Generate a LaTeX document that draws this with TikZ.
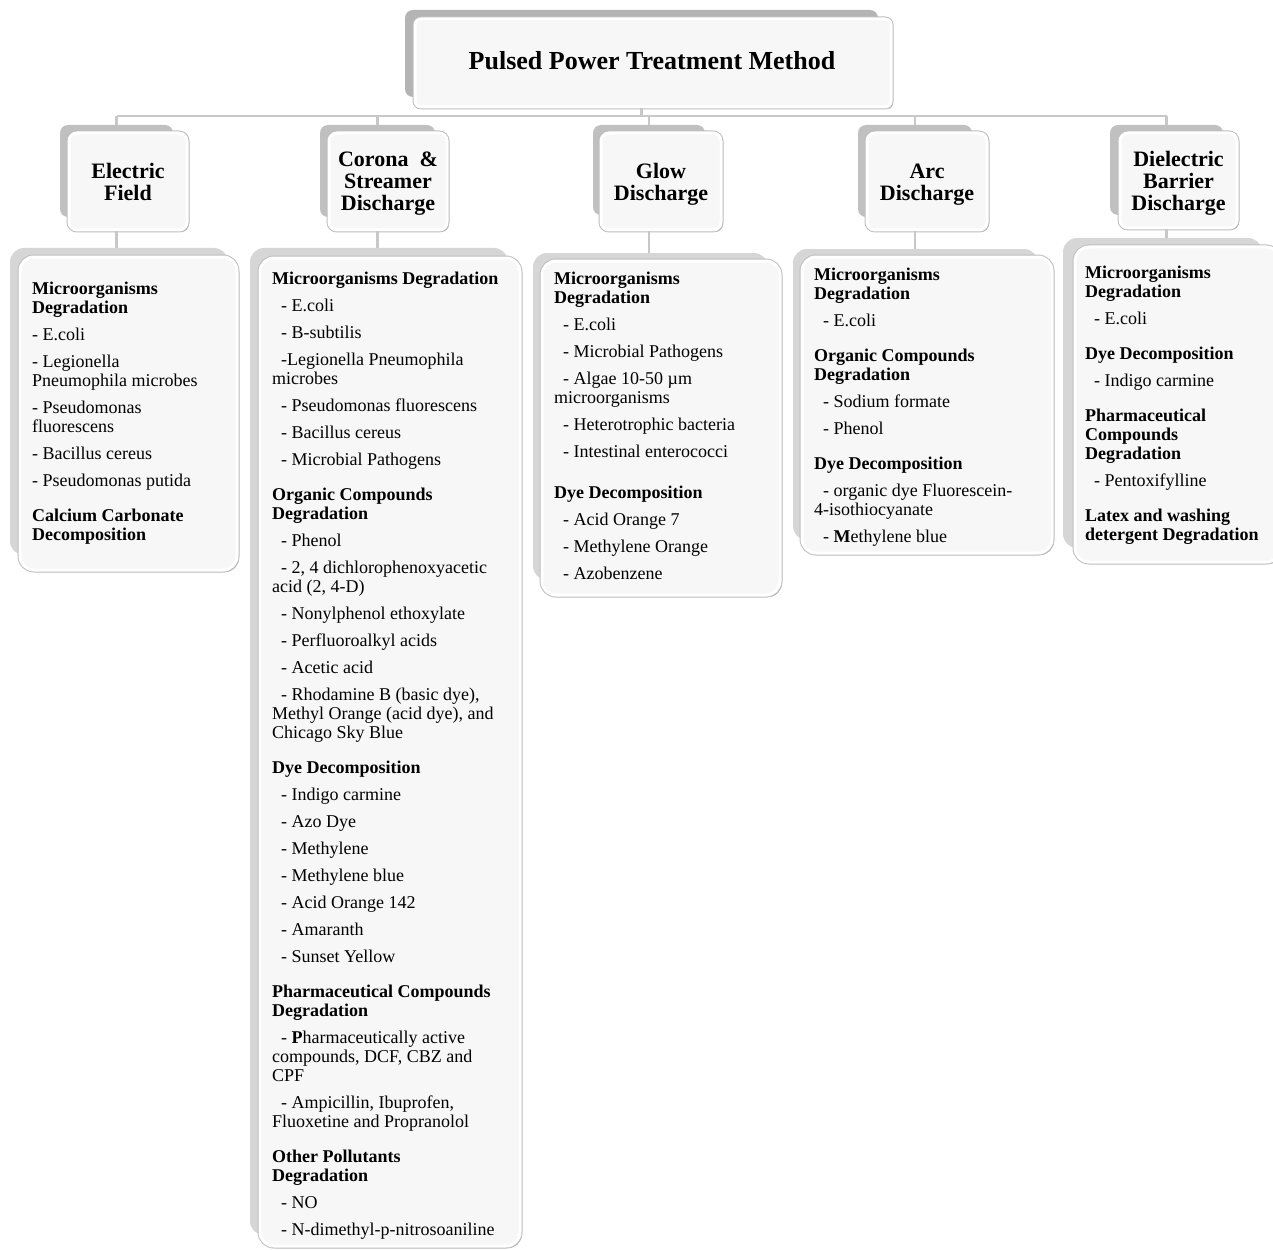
\documentclass[tikz,border=0pt]{standalone}
\usepackage{fontspec}
\setmainfont{Liberation Serif}
\usetikzlibrary{fit,shadows}

\definecolor{backdark}{HTML}{B4B4B4}
\definecolor{backmid}{HTML}{C0C0C0}
\definecolor{backlight}{HTML}{D6D6D6}
\definecolor{panel}{HTML}{F7F7F7}
\definecolor{linkgray}{HTML}{C8C8C8}

\newcommand{\ig}{8pt}
\newcommand{\hg}{16pt}
\newcommand{\ind}{\hspace*{9pt}}

\begin{document}
\begin{tikzpicture}[x=1pt,y=-1pt,
	back/.style={rounded corners=8pt, inner sep=0pt, draw=none},
	front/.style={rounded corners=8pt, inner sep=0pt,
		drop shadow={shadow xshift=2pt, shadow yshift=-2pt, fill=gray!70, opacity=1},
		preaction={draw=gray!50, line width=5pt},
		fill=panel, draw=white, line width=3pt},
	ttlfont/.style={font=\bfseries\fontsize{26}{30}\selectfont, inner sep=0pt},
	headfont/.style={font=\bfseries\fontsize{22}{22}\selectfont, align=center, inner sep=0pt},
	list/.style={anchor=north west, inner sep=0pt, align=left, font=\fontsize{18}{19}\selectfont},
	link/.style={draw=linkgray, line width=2.5pt}]
	\useasboundingbox (0,0) rectangle (1273,1249);

	% title
	\node[back, fill=backdark, fit={(405,10) (878,97)}] (ttl-back) {};
	\node[front, rounded corners=6pt, fit={(415,19) (891,107)}] (ttl) {};
	\node[ttlfont] (ttl-txt) at (652,61) {Pulsed Power Treatment Method};

	% methods
	\node[back, fill=backmid, fit={(60,125) (173,217)}] (ef-back) {};
	\node[front, fit={(69,133) (187,230)}] (ef) {};
	\node[headfont] (ef-txt) at (ef.center) {Electric\\Field};

	\node[back, fill=backmid, fit={(320,125) (435,217)}] (cs-back) {};
	\node[front, fit={(329,133) (447,230)}] (cs) {};
	\node[headfont] (cs-txt) at ([yshift=-2pt]cs.center) {Corona \ \&\\Streamer\\Discharge};

	\node[back, fill=backmid, fit={(593,125) (705,215)}] (gd-back) {};
	\node[front, fit={(601,133) (721,230)}] (gd) {};
	\node[headfont] (gd-txt) at ([yshift=-3pt]gd.center) {Glow\\Discharge};

	\node[back, fill=backmid, fit={(858,125) (972,217)}] (ad-back) {};
	\node[front, fit={(867,133) (987,230)}] (ad) {};
	\node[headfont] (ad-txt) at ([yshift=-3pt]ad.center) {Arc\\Discharge};

	\node[back, fill=backmid, fit={(1110,125) (1223,215)}] (dbd-back) {};
	\node[front, fit={(1120,133) (1237,228)}] (dbd) {};
	\node[headfont] (dbd-txt) at ([yshift=-3pt]dbd.center) {Dielectric\\Barrier\\Discharge};

	% lists
	\node[back, rounded corners=14pt, fill=backlight, fit={(10,248) (228,555)}] (ef-list-back) {};
	\node[front, rounded corners=14pt, fit={(20,257) (237,570)}] (ef-list) {};
	\node[list] (ef-list-txt) at (32,282) {\textbf{Microorganisms}\\ \textbf{Degradation}\\[\ig]
		- E.coli\\[\ig]
		- Legionella\\ Pneumophila microbes\\[\ig]
		- Pseudomonas\\ fluorescens\\[\ig]
		- Bacillus cereus\\[\ig]
		- Pseudomonas putida\\[\hg]
		\textbf{Calcium Carbonate}\\ \textbf{Decomposition}};

	\node[back, rounded corners=14pt, fill=backlight, fit={(250,248) (508,1235)}] (cs-list-back) {};
	\node[front, rounded corners=14pt, fit={(260,258) (520,1246)}] (cs-list) {};
	\node[list] (cs-list-txt) at (272,272) {\textbf{Microorganisms Degradation}\\[\ig]
		\ind- E.coli\\[\ig]
		\ind- B-subtilis\\[\ig]
		\ind-Legionella Pneumophila\\ microbes\\[\ig]
		\ind- Pseudomonas fluorescens\\[\ig]
		\ind- Bacillus cereus\\[\ig]
		\ind- Microbial Pathogens\\[\hg]
		\textbf{Organic Compounds}\\ \textbf{Degradation}\\[\ig]
		\ind- Phenol\\[\ig]
		\ind- 2, 4 dichlorophenoxyacetic\\ acid (2, 4-D)\\[\ig]
		\ind- Nonylphenol ethoxylate\\[\ig]
		\ind- Perfluoroalkyl acids\\[\ig]
		\ind- Acetic acid\\[\ig]
		\ind- Rhodamine B (basic dye),\\ Methyl Orange (acid dye), and\\ Chicago Sky Blue\\[\hg]
		\textbf{Dye Decomposition}\\[\ig]
		\ind- Indigo carmine\\[\ig]
		\ind- Azo Dye\\[\ig]
		\ind- Methylene\\[\ig]
		\ind- Methylene blue\\[\ig]
		\ind- Acid Orange 142\\[\ig]
		\ind- Amaranth\\[\ig]
		\ind- Sunset Yellow\\[\hg]
		\textbf{Pharmaceutical Compounds}\\ \textbf{Degradation}\\[\ig]
		\ind- \textbf{P}harmaceutically active\\ compounds, DCF, CBZ and\\ CPF\\[\ig]
		\ind- Ampicillin, Ibuprofen,\\ Fluoxetine and Propranolol\\[\hg]
		\textbf{Other Pollutants}\\ \textbf{Degradation}\\[\ig]
		\ind- NO\\[\ig]
		\ind- N-dimethyl-p-nitrosoaniline};

	\node[back, rounded corners=14pt, fill=backlight, fit={(533,253) (768,580)}] (gd-list-back) {};
	\node[front, rounded corners=14pt, fit={(542,261) (780,595)}] (gd-list) {};
	\node[list] (gd-list-txt) at (554,271.5) {\textbf{Microorganisms}\\ \textbf{Degradation}\\[\ig]
		\ind- E.coli\\[\ig]
		\ind- Microbial Pathogens\\[\ig]
		\ind- Algae 10-50 µm\\ microorganisms\\[\ig]
		\ind- Heterotrophic bacteria\\[\ig]
		\ind- Intestinal enterococci\\[22pt]
		\textbf{Dye Decomposition}\\[\ig]
		\ind- Acid Orange 7\\[\ig]
		\ind- Methylene Orange\\[\ig]
		\ind- Azobenzene};

	\node[back, rounded corners=14pt, fill=backlight, fit={(793,249) (1038,540)}] (ad-list-back) {};
	\node[front, rounded corners=14pt, fit={(802,257) (1052,553)}] (ad-list) {};
	\node[list] (ad-list-txt) at (814,268) {\textbf{Microorganisms}\\ \textbf{Degradation}\\[\ig]
		\ind- E.coli\\[\hg]
		\textbf{Organic Compounds}\\ \textbf{Degradation}\\[\ig]
		\ind- Sodium formate\\[\ig]
		\ind- Phenol\\[\hg]
		\textbf{Dye Decomposition}\\[\ig]
		\ind- organic dye Fluorescein-\\ 4-isothiocyanate\\[\ig]
		\ind- \textbf{M}ethylene blue};

	\node[back, rounded corners=14pt, fill=backlight, fit={(1063,238) (1262,548)}] (dbd-list-back) {};
	\node[front, rounded corners=14pt, fit={(1075,247) (1280,562)}] (dbd-list) {};
	\node[list] (dbd-list-txt) at (1085,265.6) {\textbf{Microorganisms}\\ \textbf{Degradation}\\[\ig]
		\ind- E.coli\\[\hg]
		\textbf{Dye Decomposition}\\[\ig]
		\ind- Indigo carmine\\[\hg]
		\textbf{Pharmaceutical}\\ \textbf{Compounds}\\ \textbf{Degradation}\\[\ig]
		\ind- Pentoxifylline\\[\hg]
		\textbf{Latex and washing}\\ \textbf{detergent Degradation}};

	% connectors
	\coordinate (bus) at (0,116);
	\draw[link] (ttl-back |- ttl.south) -- (ttl-back |- bus);
	\draw[link] (ef-back.north |- bus) -- (dbd-back.north |- bus);
	\draw[link] (ef-back.north |- bus) -- (ef-back.north);
	\draw[link] (cs-back.north |- bus) -- (cs-back.north);
	\draw[link] (gd-back.north |- bus) -- (gd-back.north);
	\draw[link] (ad-back.north |- bus) -- (ad-back.north);
	\draw[link] (dbd-back.north |- bus) -- (dbd-back.north);
	\draw[link] (ef-back |- ef.south) -- (ef-back |- ef-list-back.north);
	\draw[link] (cs-back |- cs.south) -- (cs-back |- cs-list-back.north);
	\draw[link] (gd-back |- gd.south) -- (gd-back |- gd-list-back.north);
	\draw[link] (ad-back |- ad.south) -- (ad-back |- ad-list-back.north);
	\draw[link] (dbd-back |- dbd.south) -- (dbd-back |- dbd-list-back.north);
\end{tikzpicture}
\end{document}
